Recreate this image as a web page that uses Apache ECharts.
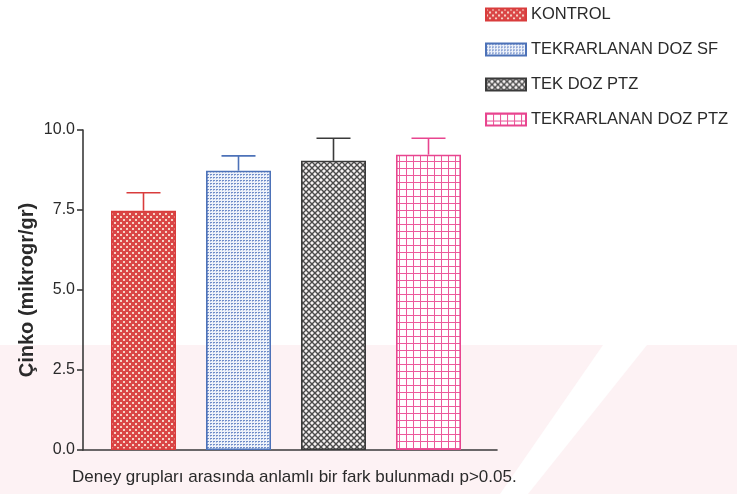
<!DOCTYPE html>
<html>
<head>
<meta charset="utf-8">
<script src="https://cdn.jsdelivr.net/npm/echarts@6/dist/echarts.min.js"></script>
<style>
html,body{margin:0;padding:0;background:#fff;}
#chart{width:737px;height:494px;}
</style>
</head>
<body>
<div id="chart"></div>
<script>
// ---- data ----
const categories = ['KONTROL', 'TEKRARLANAN DOZ SF', 'TEK DOZ PTZ', 'TEKRARLANAN DOZ PTZ'];
const means = [7.48, 8.73, 9.04, 9.23];
const errors = [0.56, 0.46, 0.70, 0.51];
const yTicks = [0, 2.5, 5, 7.5, 10];
const yAxisTitle = 'Çinko (mikrogr/gr)';
const footNote = 'Deney grupları arasında anlamlı bir fark bulunmadı p>0.05.';

// ---- styles ----
const borderColors = ['#d93c3c', '#4d72b8', '#3a3a3a', '#e8458f'];

function makePattern(w, h, draw) {
  const c = document.createElement('canvas');
  c.width = w; c.height = h;
  const ctx = c.getContext('2d');
  draw(ctx, w, h);
  return { image: c, repeat: 'repeat' };
}
const patterns = [
  makePattern(6, 6, (ctx) => {
    ctx.fillStyle = '#da4646'; ctx.fillRect(0, 0, 6, 6);
    ctx.fillStyle = '#f5d2c6';
    ctx.fillRect(0, 0, 2, 2); ctx.fillRect(3, 3, 2, 2);
  }),
  makePattern(3, 3, (ctx) => {
    ctx.fillStyle = '#eef2fa'; ctx.fillRect(0, 0, 3, 3);
    ctx.fillStyle = '#6f8cc8'; ctx.fillRect(0, 0, 2, 1);
    ctx.fillStyle = '#aebfe3'; ctx.fillRect(0, 1, 1, 1);
  }),
  makePattern(6, 6, (ctx) => {
    ctx.fillStyle = '#f6f2f2'; ctx.fillRect(0, 0, 6, 6);
    ctx.strokeStyle = '#4a4a4a'; ctx.lineWidth = 1.4;
    ctx.beginPath();
    ctx.moveTo(-1, -1); ctx.lineTo(7, 7);
    ctx.moveTo(7, -1); ctx.lineTo(-1, 7);
    ctx.stroke();
  }),
  makePattern(7, 7, (ctx) => {
    ctx.fillStyle = '#ffffff'; ctx.fillRect(0, 0, 7, 7);
    ctx.fillStyle = '#ec5a9c';
    ctx.fillRect(0, 0, 7, 1); ctx.fillRect(0, 0, 1, 7);
  })
];

const barSeries = categories.map((name, i) => ({
  name: name,
  type: 'bar',
  xAxisIndex: 0,
  yAxisIndex: 0,
  barWidth: 65,
  barGap: '-100%',
  data: categories.map((c, j) => (j === i ? means[i] : '-')),
  itemStyle: { color: patterns[i], borderColor: borderColors[i], borderWidth: 1.6 },
  z: 2
}));

const errorSeries = {
  type: 'custom',
  name: 'error',
  xAxisIndex: 0,
  yAxisIndex: 0,
  z: 3,
  data: categories.map((c, i) => [i, means[i], errors[i]]),
  renderItem: function (params, api) {
    const idx = api.value(0);
    const m = api.value(1);
    const e = api.value(2);
    const base = api.coord([idx, m]);
    const top = api.coord([idx, m + e]);
    const hw = 17;
    const col = borderColors[params.dataIndex];
    return {
      type: 'group',
      children: [
        { type: 'line', shape: { x1: base[0], y1: base[1], x2: top[0], y2: top[1] }, style: { stroke: col, lineWidth: 1.6 } },
        { type: 'line', shape: { x1: top[0] - hw, y1: top[1], x2: top[0] + hw, y2: top[1] }, style: { stroke: col, lineWidth: 1.6 } }
      ]
    };
  }
};

const chart = echarts.init(document.getElementById('chart'), null, { renderer: 'canvas' });
chart.setOption({
  backgroundColor: '#ffffff',
  animation: false,
  graphic: [
    { type: 'polygon', z: -10, silent: true, shape: { points: [[0, 345], [603, 345], [500, 494], [0, 494]] }, style: { fill: '#fdf2f4' } },
    { type: 'polygon', z: -10, silent: true, shape: { points: [[647, 345], [737, 345], [737, 494], [528, 494]] }, style: { fill: '#fdf2f4' } }
  ],
  title: {
    text: footNote,
    left: 72,
    top: 469,
    padding: 0,
    textStyle: { fontFamily: 'Liberation Sans, Arial, sans-serif', fontSize: 17, fontWeight: 'normal', color: '#2a2a2a' }
  },
  legend: {
    data: categories,
    orient: 'vertical',
    left: 485,
    top: 6,
    padding: 0,
    icon: 'rect',
    itemWidth: 40,
    itemHeight: 12,
    itemGap: 18,
    textStyle: { fontFamily: 'Liberation Sans, Arial, sans-serif', fontSize: 16.5, color: '#2a2a2a', padding: [0, 0, 0, 0] },
    selectedMode: false
  },
  grid: [
    { left: 96, right: 261, top: 130, bottom: 44 },
    { left: 83, right: 240, top: 130, bottom: 44 }
  ],
  xAxis: [
    {
      type: 'category', gridIndex: 0, data: categories,
      axisLine: { show: false }, axisTick: { show: false }, axisLabel: { show: false }
    },
    {
      type: 'value', gridIndex: 1, min: 0, max: 1,
      axisLine: { show: true, lineStyle: { color: '#3a3a3a', width: 1.6 } },
      axisTick: { show: false }, axisLabel: { show: false }, splitLine: { show: false }
    }
  ],
  yAxis: [
    {
      type: 'value', gridIndex: 0, min: yTicks[0], max: yTicks[yTicks.length - 1], interval: 2.5,
      offset: 13,
      name: yAxisTitle,
      nameLocation: 'middle',
      nameGap: 46,
      nameMoveOverlap: false,
      nameTextStyle: { fontFamily: 'Liberation Sans, Arial, sans-serif', fontSize: 20, fontWeight: 'bold', color: '#2a2a2a' },
      axisLine: { show: true, lineStyle: { color: '#3a3a3a', width: 1.6 } },
      axisTick: { show: true, length: 6, lineStyle: { color: '#3a3a3a', width: 1.6 } },
      axisLabel: { formatter: (v) => v.toFixed(1), fontFamily: 'Liberation Sans, Arial, sans-serif', fontSize: 16, color: '#2a2a2a', margin: 8 },
      splitLine: { show: false }
    },
    { type: 'value', gridIndex: 1, show: false, min: 0, max: 1 }
  ],
  series: barSeries.concat([errorSeries])
});
</script>
</body>
</html>
